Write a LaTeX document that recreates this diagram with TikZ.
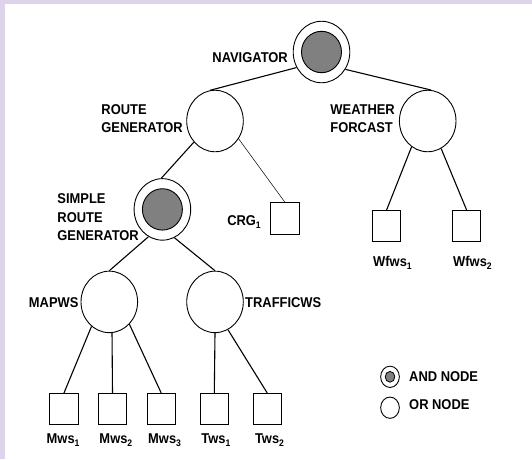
\documentclass[tikz,border=0pt]{standalone}
\usepackage{fontspec}
\setmainfont{Liberation Sans}[FakeStretch=0.91]
\usetikzlibrary{shapes.geometric}
\definecolor{framelilac}{HTML}{DDD4EA}
\definecolor{andgray}{HTML}{808080}
\newcommand{\wsub}[1]{\raisebox{-3.3pt}{\fontsize{9.5}{9.5}\selectfont #1}}
\tikzset{
    every node/.style={font=\fontsize{14.2}{18.5}\selectfont\bfseries},
    lbl/.style={inner sep=0pt,align=left},
    ornode/.style={ellipse,draw,line width=0.9pt,minimum width=56.6pt,minimum height=61.5pt,inner sep=0pt},
    andnode/.style={ornode,path picture={\draw[fill=andgray,line width=0.9pt] (path picture bounding box.center) ellipse (20pt and 20.7pt);}},
    legor/.style={ellipse,draw,line width=0.9pt,minimum width=18.7pt,minimum height=21.3pt,inner sep=0pt},
    legand/.style={legor,path picture={\draw[fill=andgray,line width=0.8pt] (path picture bounding box.center) ellipse (4.8pt and 5.4pt);}},
    wsbox/.style={rectangle,draw,line width=0.9pt,minimum width=28.4pt,minimum height=31.2pt,inner sep=0pt},
    link/.style={line width=1.1pt},
    thinlink/.style={line width=0.5pt}
}

\begin{document}
\begin{tikzpicture}[x=1pt,y=-1pt]
\fill[framelilac] (0,0) rectangle (532,459);
\fill[white] (5,3.5) rectangle (532,459);

\node[andnode] (nav) at (321.5,52) {};
\node[ornode] (rg) at (215,121) {};
\node[ornode] (wf) at (427.7,121) {};
\node[andnode] (srg) at (162.4,209.4) {};
\node[wsbox] (crg) at (285,218.4) {};
\node[wsbox] (wfws1) at (386.6,226) {};
\node[wsbox] (wfws2) at (466.6,226) {};
\node[ornode] (mapws) at (109.3,301.9) {};
\node[ornode] (traf) at (215,301.9) {};
\node[wsbox] (mws1) at (64,409) {};
\node[wsbox] (mws2) at (112.5,409) {};
\node[wsbox] (mws3) at (161.2,409) {};
\node[wsbox] (tws1) at (214.3,409) {};
\node[wsbox] (tws2) at (267.2,409) {};

\node[lbl,anchor=east] (navlbl) at (288,58) {NAVIGATOR};
\node[lbl,anchor=east] (rglbl) at (183,118.5) {ROUTE\\GENERATOR};
\node[lbl,anchor=east] (wflbl) at (395,118.5) {WEATHER\\FORCAST};
\node[lbl,anchor=east] (srglbl) at (139,217.5) {SIMPLE\\ROUTE\\GENERATOR};
\node[lbl,anchor=east] (crglbl) at (261,222) {CRG\wsub{1}};
\node[lbl] (wfws1lbl) at (392.5,263) {Wfws\wsub{1}};
\node[lbl] (wfws2lbl) at (472.5,263) {Wfws\wsub{2}};
\node[lbl,anchor=east] (mapwslbl) at (78.7,302.7) {MAPWS};
\node[lbl,anchor=west] (traflbl) at (245,302.7) {TRAFFICWS};
\node[lbl] (mws1lbl) at (63.1,440) {Mws\wsub{1}};
\node[lbl] (mws2lbl) at (115.9,440) {Mws\wsub{2}};
\node[lbl] (mws3lbl) at (164.6,440) {Mws\wsub{3}};
\node[lbl] (tws1lbl) at (215.9,440) {Tws\wsub{1}};
\node[lbl] (tws2lbl) at (269.5,440) {Tws\wsub{2}};

\node[legand] (legandnode) at (390,376.8) {};
\node[legor] (legornode) at (390,407.7) {};
\node[lbl,anchor=west] (legandlbl) at (409,376.4) {AND NODE};
\node[lbl,anchor=west] (legorlbl) at (409,404.5) {OR NODE};

\draw[link] (nav.212) -- (rg.99);
\draw[link] (nav.324) -- (wf.84);
\draw[link] (rg.225) -- (srg.92);
\draw[thinlink] (rg.323) -- (crg.north);
\draw[link] (wf.238) -- (wfws1.north);
\draw[link] (wf.296) -- (wfws2.north);
\draw[link] (srg.243) -- (mapws.north);
\draw[link] (srg.293) -- (traf.north);
\draw[link] (mapws.234) -- (mws1.north);
\draw[link] (mapws.275) -- (mws2.north);
\draw[link] (mapws.312) -- (mws3.north);
\draw[link] (traf.south) -- (tws1.north);
\draw[link] (traf.295) -- (tws2.north);
\end{tikzpicture}
\end{document}
